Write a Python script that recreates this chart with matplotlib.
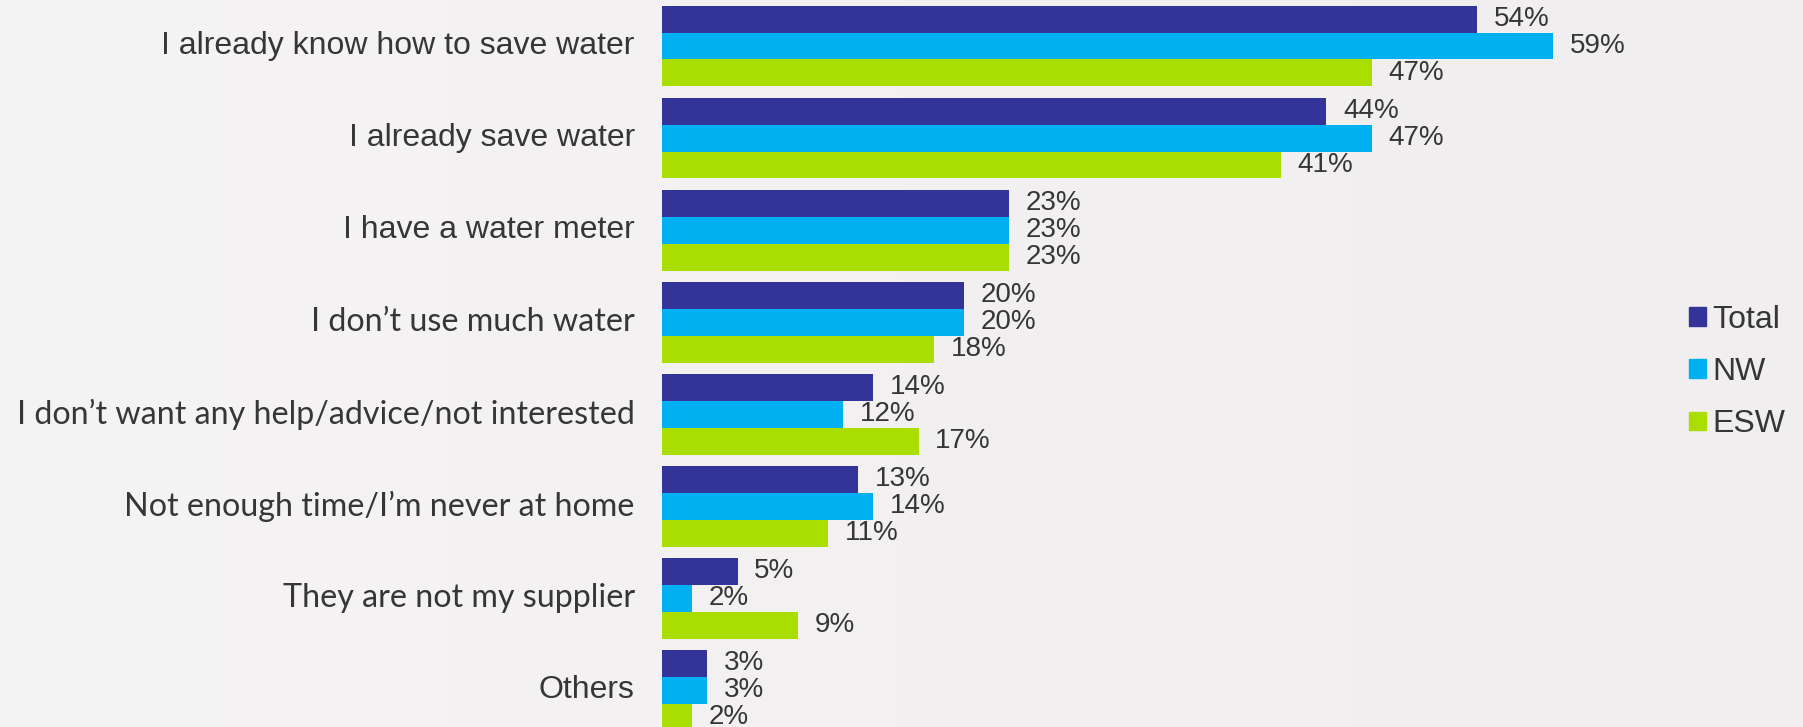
import matplotlib.pyplot as plt
import numpy as np
from matplotlib.patches import Patch
from matplotlib.colors import LinearSegmentedColormap

plt.rcParams['font.family'] = ['Liberation Sans', 'DejaVu Sans']

# survey reasons
categories = ['I already know how to save water', 'I already save water', 'I have a water meter',
              'I don\u2019t use much water', 'I don\u2019t want any help/advice/not interested',
              'Not enough time/I\u2019m never at home', 'They are not my supplier', 'Others']
total = [54, 44, 23, 20, 14, 13, 5, 3]
nw = [59, 47, 23, 20, 12, 14, 2, 3]
esw = [47, 41, 23, 18, 17, 11, 9, 2]
series_names = ['Total', 'NW', 'ESW']
colors = ['#333399', '#00b0f0', '#aade00']
text_col = '#363636'

fig = plt.figure(figsize=(18.03, 7.27), dpi=100)

# faint left-to-right background gradient
bg_ax = fig.add_axes([0, 0, 1, 1], zorder=-1)
cmap = LinearSegmentedColormap.from_list('bg', ['#f5f4f4', '#f3f0f1', '#f1eeef'])
bg_ax.imshow(np.linspace(0, 1, 256)[None, :], cmap=cmap, aspect='auto', extent=[0, 1, 0, 1])
bg_ax.axis('off')

ax = fig.add_axes([662 / 1803, 0, 1 - 662 / 1803, 1])
ax.patch.set_alpha(0)

y = np.arange(len(categories))
h = 0.293
for k, (vals, c) in enumerate(zip([total, nw, esw], colors)):
    pos = y + (k - 1) * h
    ax.barh(pos, vals, height=h, color=c, edgecolor='none')
    for p, v in zip(pos, vals):
        ax.text(v + 1.1, p, f'{v}%', va='center', ha='left', fontsize=20, color=text_col)

# the middle labels are set in a different face in the original
for yi, cat in zip(y, categories):
    if '\u2019' in cat or cat == 'They are not my supplier':
        ax.text(-1.8, yi, cat, va='center', ha='right', fontsize=23.2, color=text_col,
                family=['Lato', 'DejaVu Sans'])
    else:
        ax.text(-1.8, yi, cat, va='center', ha='right', fontsize=23, color=text_col)

ax.set_xlim(0, 1141 / 15.1)
ax.set_ylim(7.40, -0.5)
ax.axis('off')

handles = [Patch(color=c) for c in colors]
fig.legend(handles, series_names, loc='center left', bbox_to_anchor=(1660 / 1803, 1 - 372 / 727),
           frameon=False, fontsize=23, handlelength=0.53, handleheight=0.53,
           handletextpad=0.22, labelspacing=0.7, labelcolor=text_col)

fig.savefig('out.png', dpi=100)
